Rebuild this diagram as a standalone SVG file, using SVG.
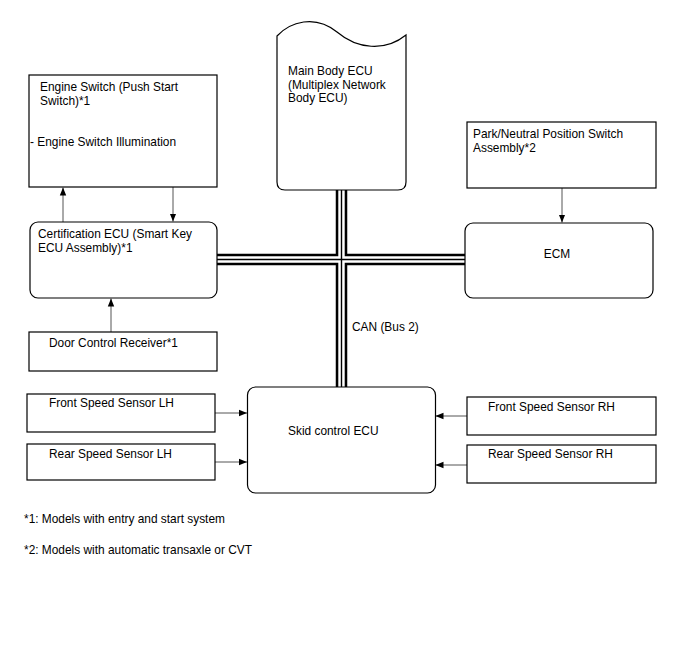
<svg xmlns="http://www.w3.org/2000/svg" width="688" height="658" viewBox="0 0 688 658">
<style>
text{font-family:"Liberation Sans",Arial,sans-serif;font-size:11.9px;fill:#000}
.box{fill:#fff;stroke:#000;stroke-width:1.2}
.arr{stroke:#555;stroke-width:1;fill:none;marker-end:url(#ah)}
.busB{stroke:#000;stroke-width:11.5;fill:none}
.busW{stroke:#fff;stroke-width:6.4;fill:none}
.busC{stroke:#000;stroke-width:1.4;fill:none}
</style>
<defs>
<marker id="ah" viewBox="0 0 10 10" refX="10" refY="5" markerWidth="8" markerHeight="8" markerUnits="userSpaceOnUse" orient="auto">
<path d="M0,1 L10,5 L0,9 Z" fill="#000"/>
</marker>
</defs>
<rect width="688" height="658" fill="#fff"/>
<g id="connectors">
<path class="busB" d="M341.5,188 V388 M216,259.5 H466"/>
<path class="busW" d="M341.5,188 V388 M216,259.5 H466"/>
<path class="busC" d="M341.5,188 V388 M216,259.5 H466"/>
<line class="arr" x1="63" y1="222" x2="63" y2="187.5"/>
<line class="arr" x1="173" y1="187" x2="173" y2="221.5"/>
<line class="arr" x1="111" y1="332" x2="111" y2="298.5"/>
<line class="arr" x1="562" y1="188" x2="562" y2="222.5"/>
<line class="arr" x1="215" y1="413" x2="247" y2="413"/>
<line class="arr" x1="215" y1="462" x2="247" y2="462"/>
<line class="arr" x1="467" y1="416" x2="435.5" y2="416"/>
<line class="arr" x1="467" y1="465" x2="435.5" y2="465"/>
<text x="352" y="331">CAN (Bus 2)</text>
</g>
<g id="engine-switch">
<rect class="box" x="29" y="75" width="188" height="112"/>
<text x="40" y="91">Engine Switch (Push Start</text>
<text x="40" y="105">Switch)*1</text>
<text x="30" y="146">- Engine Switch Illumination</text>
</g>
<g id="certification-ecu">
<rect class="box" x="30" y="222" width="187" height="76" rx="8"/>
<text x="38" y="238">Certification ECU (Smart Key</text>
<text x="38" y="252">ECU Assembly)*1</text>
</g>
<g id="door-control-receiver">
<rect class="box" x="29" y="332" width="188" height="39"/>
<text x="49" y="347">Door Control Receiver*1</text>
</g>
<g id="main-body-ecu">
<path class="box" d="M277,36 C290,22 315,14 337,32 C357,49 385,52 406,35 V182 Q406,190 398,190 H285 Q277,190 277,182 Z"/>
<text x="288" y="75">Main Body ECU</text>
<text x="288" y="88.5">(Multiplex Network</text>
<text x="288" y="102">Body ECU)</text>
</g>
<g id="park-neutral">
<rect class="box" x="467" y="122" width="189" height="66"/>
<text x="473" y="138">Park/Neutral Position Switch</text>
<text x="473" y="152">Assembly*2</text>
</g>
<g id="ecm">
<rect class="box" x="465" y="223" width="188" height="75" rx="8"/>
<text x="557" y="258" text-anchor="middle">ECM</text>
</g>
<g id="skid-control-ecu">
<rect class="box" x="247.5" y="387" width="188" height="106" rx="8"/>
<text x="288" y="435">Skid control ECU</text>
</g>
<g id="front-lh">
<rect class="box" x="27" y="394" width="188" height="38"/>
<text x="49" y="407">Front Speed Sensor LH</text>
</g>
<g id="rear-lh">
<rect class="box" x="27" y="444" width="188" height="36"/>
<text x="49" y="458">Rear Speed Sensor LH</text>
</g>
<g id="front-rh">
<rect class="box" x="467" y="397" width="189" height="38"/>
<text x="488" y="411">Front Speed Sensor RH</text>
</g>
<g id="rear-rh">
<rect class="box" x="467" y="445" width="189" height="38"/>
<text x="488" y="458">Rear Speed Sensor RH</text>
</g>
<g id="notes">
<text x="24" y="523">*1: Models with entry and start system</text>
<text x="24" y="554">*2: Models with automatic transaxle or CVT</text>
</g>
</svg>
